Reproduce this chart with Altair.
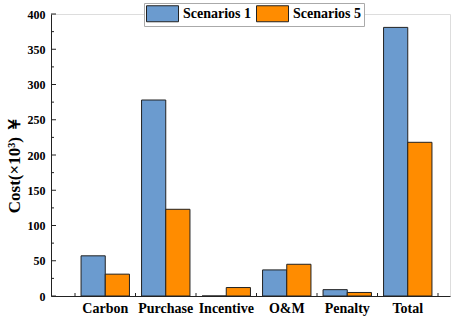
import altair as alt
import pandas as pd

# Cost components for the two scenarios (×10³ ¥)
categories = ["Carbon", "Purchase", "Incentive", "O&M", "Penalty", "Total"]
scenario_1 = [57, 278, 0, 37, 9, 381]
scenario_5 = [31, 123, 12, 45, 5, 218]
series_names = ["Scenarios 1", "Scenarios 5"]
series_colors = ["#6B9BCF", "#FF8C00"]

# y-axis tick positions (drawn inside the plot)
major_ticks = list(range(0, 401, 50))
minor_ticks = list(range(25, 400, 50))

rows = []
for cat, a, b in zip(categories, scenario_1, scenario_5):
    rows.append({"category": cat, "series": series_names[0], "cost": a})
    rows.append({"category": cat, "series": series_names[1], "cost": b})
df = pd.DataFrame(rows)

W, H = 399, 282
FONT = "Liberation Serif"

x_scale = alt.Scale(domain=categories, paddingInner=0, paddingOuter=0.2975, align=0.667)
y_scale = alt.Scale(domain=[0, 400], nice=False)

x_axis = alt.Axis(title=None, labelAngle=0, tickSize=0, labelPadding=5,
                  labelFontSize=14, labelFontWeight="bold", labelFont=FONT,
                  labelColor="black", domainColor="#222222")
y_axis = alt.Axis(title="Cost(×10³) ￥", values=major_ticks, tickSize=0,
                  labelOverlap=False, labelBound=False,
                  labelPadding=6, labelFontSize=12, labelFontWeight="bold",
                  labelFont=FONT, labelColor="black", domainColor="#222222",
                  titleFont=FONT, titleFontSize=17, titleFontWeight="bold",
                  titleColor="black", titlePadding=4, titleY=150, grid=False)

bars = alt.Chart(df).mark_bar(stroke="#222222", strokeWidth=1).encode(
    x=alt.X("category:N", sort=categories, scale=x_scale, axis=x_axis),
    xOffset=alt.XOffset("series:N", scale=alt.Scale(paddingOuter=0.25, paddingInner=0)),
    y=alt.Y("cost:Q", scale=y_scale, axis=y_axis),
    color=alt.Color("series:N", sort=series_names,
                    scale=alt.Scale(domain=series_names, range=series_colors),
                    legend=alt.Legend(title=None, orient="none", direction="horizontal",
                                      legendX=93, legendY=-11, padding=2,
                                      strokeColor="#AAAAAA", fillColor="white",
                                      symbolType="M-1,-1L3,-1L3,1L-1,1Z", symbolSize=256,
                                      symbolStrokeColor="#222222", symbolStrokeWidth=1,
                                      symbolOpacity=1, labelFont=FONT, labelFontSize=14,
                                      labelFontWeight="bold", labelColor="black",
                                      labelOffset=20, columnPadding=2)),
)

# inward tick marks on both axes
ytick_major = alt.Chart(pd.DataFrame({"cost": major_ticks})).mark_rule(
    color="#222222", strokeWidth=1
).encode(y=alt.Y("cost:Q", scale=y_scale, axis=y_axis), x=alt.value(0), x2=alt.value(5))

ytick_minor = alt.Chart(pd.DataFrame({"cost": minor_ticks})).mark_rule(
    color="#222222", strokeWidth=1
).encode(y=alt.Y("cost:Q", scale=y_scale, axis=y_axis), x=alt.value(0), x2=alt.value(3))

xtick = alt.Chart(pd.DataFrame({"category": categories})).mark_rule(
    color="#222222", strokeWidth=1
).encode(x=alt.X("category:N", sort=categories, scale=x_scale, bandPosition=0, axis=x_axis),
         y=alt.value(H), y2=alt.value(H - 3))

xtick_end = alt.Chart(pd.DataFrame({"category": categories[-1:]})).mark_rule(
    color="#222222", strokeWidth=1
).encode(x=alt.X("category:N", sort=categories, scale=x_scale, bandPosition=1, axis=x_axis),
         y=alt.value(H), y2=alt.value(H - 3))

chart = alt.layer(bars, ytick_major, ytick_minor, xtick, xtick_end).properties(
    width=W, height=H,
    autosize=alt.AutoSizeParams(type="none"),
    padding={"left": 51, "top": 14, "right": 2, "bottom": 26},
).configure_view(stroke=None).configure(background="white")

chart.save("out.html", embed_options={"renderer": "svg", "actions": False})
